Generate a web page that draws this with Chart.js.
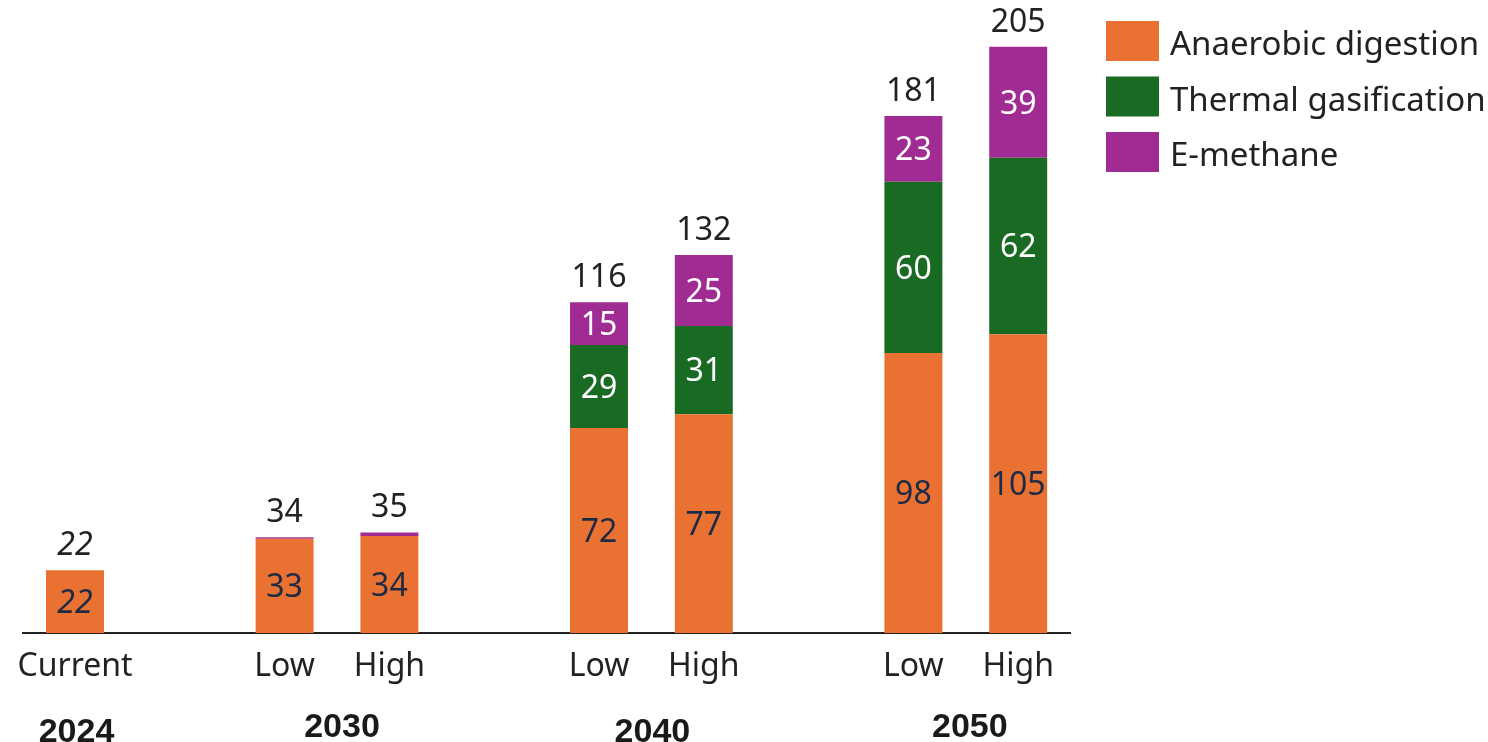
<!DOCTYPE html>
<html>
<head>
<meta charset="utf-8">
<script src="https://cdn.jsdelivr.net/npm/chart.js@4.4.1/dist/chart.umd.min.js"></script>
<style>
  html, body { margin: 0; padding: 0; background: #fff; }
</style>
</head>
<body>
<canvas id="biomethaneChart" width="1488" height="742"></canvas>
<script>
// Scenario columns (empty strings are the spacers between years)
const categories = ['Current', '', 'Low', 'High', '', 'Low', 'High', '', 'Low', 'High'];
const years = ['2024', '2030', '2040', '2050'];
const yearColumns = [[0], [2, 3], [5, 6], [8, 9]];

// Values
const anaerobicDigestion = [22, null, 33, 34, null, 71.8, 76.6, null, 98, 104.6];
const thermalGasification = [0, null, 0, 0, null, 29, 30.9, null, 60, 61.8];
const eMethane = [0, null, 0.5, 1.2, null, 15, 24.8, null, 23, 38.8];

const seriesNames = ['Anaerobic digestion', 'Thermal gasification', 'E-methane'];
const seriesColors = ['#E97132', '#196B24', '#A02B93'];
const seriesTextColors = ['#1c2b45', '#ffffff', '#ffffff'];

const FONT = '"Noto Sans", sans-serif';
const TEXT = '#222222';

const barLabels = {
  id: 'barLabels',
  afterDatasetsDraw(chart, args, opts) {
    const { ctx } = chart;
    const yScale = chart.scales.y;
    ctx.save();
    ctx.textAlign = 'center';
    ctx.textBaseline = 'alphabetic';

    // numbers inside each segment
    chart.data.datasets.forEach((ds, di) => {
      const meta = chart.getDatasetMeta(di);
      meta.data.forEach((bar, i) => {
        const v = ds.data[i];
        if (v == null || v < 5) return;
        ctx.font = (opts.italic.includes(i) ? 'italic ' : '') + '32px ' + FONT;
        ctx.fillStyle = seriesTextColors[di];
        const mid = (bar.y + bar.base) / 2;
        ctx.fillText(String(Math.round(v)), bar.x, mid + 32 * 0.357);
      });
    });

    // totals above the stacks
    const meta0 = chart.getDatasetMeta(0);
    categories.forEach((c, i) => {
      if (anaerobicDigestion[i] == null) return;
      const total = chart.data.datasets.reduce((s, ds) => s + (ds.data[i] || 0), 0);
      const top = yScale.getPixelForValue(total);
      ctx.font = (opts.italic.includes(i) ? 'italic ' : '') + '32px ' + FONT;
      ctx.fillStyle = TEXT;
      ctx.fillText(String(Math.round(total)), meta0.data[i].x, top - 15);
    });

    // year labels under the scenario names
    const xScale = chart.scales.x;
    ctx.font = 'bold 34px "Liberation Sans", Arial, sans-serif';
    ctx.fillStyle = '#1a1a1a';
    years.forEach((yr, k) => {
      const cols = yearColumns[k];
      const x = cols.reduce((s, c) => s + xScale.getPixelForValue(c), 0) / cols.length;
      ctx.fillText(yr, x + opts.yearShift[k], opts.yearBaseline[k]);
    });
    ctx.restore();
  }
};

const sideLegend = {
  id: 'sideLegend',
  afterDraw(chart, args, opts) {
    const { ctx } = chart;
    ctx.save();
    ctx.font = '33px ' + FONT;
    ctx.textAlign = 'left';
    ctx.textBaseline = 'alphabetic';
    chart.data.datasets.forEach((ds, i) => {
      const y = opts.top + i * opts.step;
      ctx.fillStyle = ds.backgroundColor;
      ctx.fillRect(opts.left, y, 53, 40);
      ctx.fillStyle = TEXT;
      ctx.fillText(ds.label, opts.left + 64, y + 34);
    });
    ctx.restore();
  }
};

const seriesData = [anaerobicDigestion, thermalGasification, eMethane];

new Chart(document.getElementById('biomethaneChart'), {
  type: 'bar',
  data: {
    labels: categories,
    datasets: seriesData.map((d, i) => ({
      label: seriesNames[i],
      data: d,
      backgroundColor: seriesColors[i],
      borderWidth: 0,
      barPercentage: 0.553,
      categoryPercentage: 1
    }))
  },
  options: {
    responsive: false,
    animation: false,
    layout: { padding: { left: 22.6, right: 417.4, top: 0, bottom: 0 } },
    scales: {
      x: {
        stacked: true,
        grid: { display: false, drawTicks: false },
        border: { display: true, color: '#222222', width: 2 },
        ticks: { color: TEXT, font: { family: FONT, size: 32 }, padding: 15, autoSkip: false, maxRotation: 0 },
        afterFit(scale) { scale.height = 109; }
      },
      y: {
        stacked: true,
        display: false,
        min: 0,
        max: 221.6
      }
    },
    plugins: {
      legend: { display: false },
      tooltip: { enabled: false },
      barLabels: { italic: [0], yearShift: [1.5, 5, 1, 4], yearBaseline: [741.5, 736.5, 741.5, 736.5] },
      sideLegend: { left: 1106, top: 21, step: 55.5 }
    }
  },
  plugins: [barLabels, sideLegend]
});
</script>
</body>
</html>
